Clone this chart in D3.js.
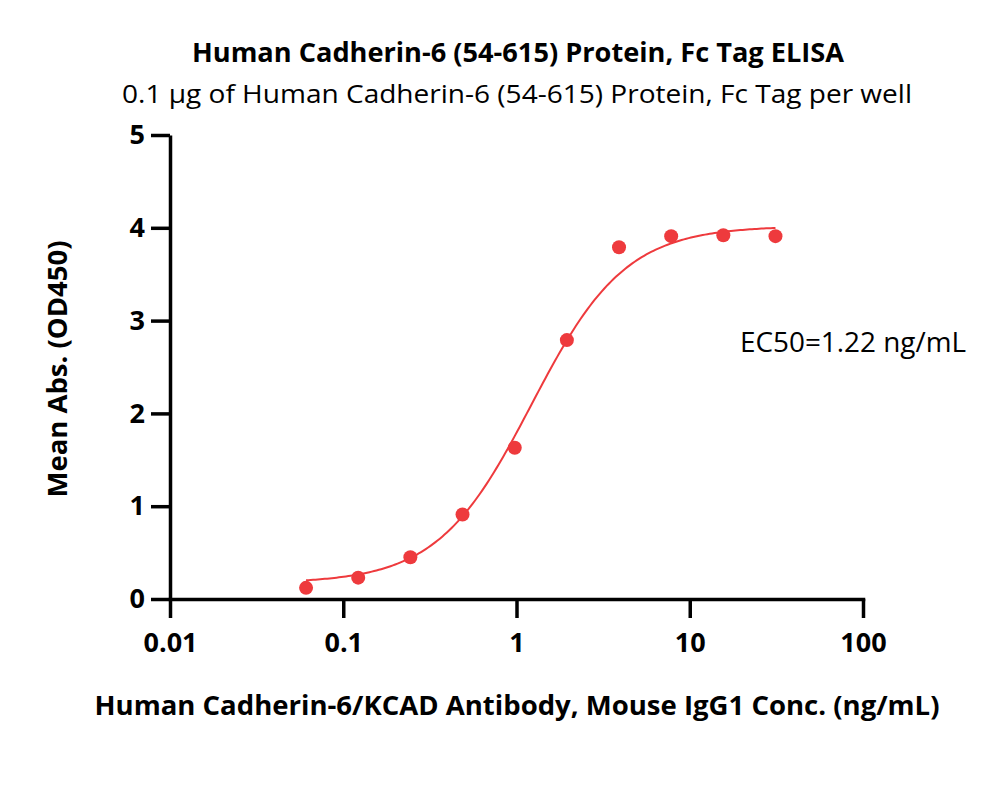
<!DOCTYPE html>
<html lang="en">
<head>
<meta charset="utf-8">
<title>Cadherin-6 ELISA</title>
<script src="https://cdn.jsdelivr.net/npm/d3@7"></script>
<style>
  body { margin: 0; background: #fff; }
  svg text { font-family: "Open Sans", "DejaVu Sans", sans-serif; fill: #000; }
</style>
</head>
<body>
<script>
// data
var conc = [0.061, 0.122, 0.244, 0.488, 0.977, 1.953, 3.906, 7.8125, 15.625, 31.25];
var od = [0.12, 0.23, 0.45, 0.91, 1.63, 2.79, 3.79, 3.91, 3.92, 3.91];
var xTicks = [0.01, 0.1, 1, 10, 100];
var yTicks = [0, 1, 2, 3, 4, 5];

// 4PL fit parameters (EC50 from the label)
var fitBottom = 0.17, fitTop = 4.02, fitEC50 = 1.22, fitHill = 1.6;

var w = 1000, h = 796;
var red = "#ee3a3d";

var svg = d3.select("body").append("svg").attr("width", w).attr("height", h);

var x = d3.scaleLog().domain([0.01, 100]).range([170, 863]);
var y = d3.scaleLinear().domain([0, 5]).range([599, 135]);

// titles
svg.append("text").attr("x", 518).attr("y", 62).attr("text-anchor", "middle")
  .attr("font-size", 26).attr("font-weight", "bold")
  .attr("textLength", 652).attr("lengthAdjust", "spacingAndGlyphs")
  .text("Human Cadherin-6 (54-615) Protein, Fc Tag ELISA");
svg.append("text").attr("x", 517).attr("y", 103).attr("text-anchor", "middle")
  .attr("font-size", 26)
  .attr("textLength", 790).attr("lengthAdjust", "spacingAndGlyphs")
  .text("0.1 \u03bcg of Human Cadherin-6 (54-615) Protein, Fc Tag per well");

// y axis
var yAxis = svg.append("g").attr("transform", "translate(170,0)")
  .call(d3.axisLeft(y).tickValues(yTicks).tickSize(19).tickSizeOuter(0).tickPadding(6).tickFormat(d3.format("d")));

// x axis
var xAxis = svg.append("g").attr("transform", "translate(0,599)")
  .call(d3.axisBottom(x).tickValues(xTicks).tickSize(19).tickSizeOuter(0).tickPadding(15).tickFormat(function(d){ return String(d); }));

[yAxis, xAxis].forEach(function(g){
  g.select(".domain").attr("stroke", "#000").attr("stroke-width", 3.5);
  g.selectAll(".tick line").attr("stroke", "#000").attr("stroke-width", 3.5);
  g.selectAll(".tick text").attr("font-size", 27).attr("font-weight", "bold")
    .attr("font-family", "'Open Sans', sans-serif").attr("fill", "#000");
});
xAxis.select(".domain").attr("stroke-linecap", "square");

// axis titles
svg.append("text").attr("x", 517).attr("y", 715).attr("text-anchor", "middle")
  .attr("font-size", 26).attr("font-weight", "bold")
  .attr("textLength", 845).attr("lengthAdjust", "spacingAndGlyphs")
  .text("Human Cadherin-6/KCAD Antibody, Mouse IgG1 Conc. (ng/mL)");
svg.append("text").attr("transform", "translate(67,369) rotate(-90)").attr("text-anchor", "middle")
  .attr("font-size", 26).attr("font-weight", "bold")
  .attr("textLength", 257).attr("lengthAdjust", "spacingAndGlyphs")
  .text("Mean Abs. (OD450)");

// fitted curve
var curveX = d3.range(0, 201).map(function(i){
  var lo = Math.log10(conc[0]), hi = Math.log10(conc[conc.length - 1]);
  return Math.pow(10, lo + (hi - lo) * i / 200);
});
var line = d3.line()
  .x(function(d){ return x(d); })
  .y(function(d){ return y(fitBottom + (fitTop - fitBottom) / (1 + Math.pow(fitEC50 / d, fitHill))); });
svg.append("path").datum(curveX).attr("d", line)
  .attr("fill", "none").attr("stroke", red).attr("stroke-width", 2);

// points
svg.selectAll("circle.pt").data(conc).enter().append("circle")
  .attr("class", "pt")
  .attr("cx", function(d){ return x(d); })
  .attr("cy", function(d, i){ return y(od[i]); })
  .attr("r", 7)
  .attr("fill", red);

// EC50 label
svg.append("text").attr("x", 740).attr("y", 352)
  .attr("font-size", 27)
  .attr("textLength", 226).attr("lengthAdjust", "spacingAndGlyphs")
  .text("EC50=" + fitEC50 + " ng/mL");
</script>
</body>
</html>
